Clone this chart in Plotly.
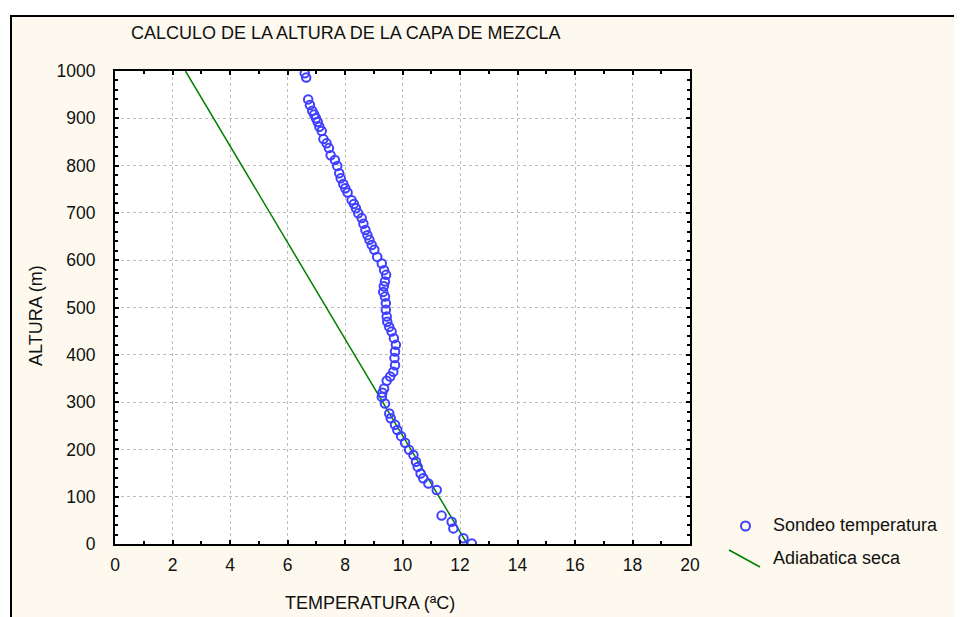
import plotly.graph_objects as go

# Sounding data (temperature °C, altitude m)
sondeo_temp = [6.60, 6.65, 6.72, 6.78, 6.86, 6.93, 6.99, 7.05, 7.11, 7.19, 7.25, 7.36, 7.44, 7.50,
               7.65, 7.73, 7.80, 7.85, 7.94, 8.01, 8.09, 8.23, 8.31, 8.38, 8.46, 8.58, 8.64, 8.71,
               8.78, 8.85, 8.93, 9.02, 9.12, 9.28, 9.36, 9.43, 9.39, 9.35, 9.33, 9.39, 9.42, 9.42,
               9.45, 9.47, 9.54, 9.62, 9.70, 9.77, 9.74, 9.72, 9.74, 9.68, 9.57, 9.45, 9.36, 9.30,
               9.28, 9.39, 9.54, 9.59, 9.74, 9.82, 9.95, 10.09, 10.23, 10.38, 10.47, 10.53, 10.63,
               10.72, 10.90, 11.19, 11.36, 11.71, 11.77, 12.12, 12.41]
sondeo_alt = [995, 986, 940, 928, 916, 908, 900, 892, 882, 873, 856, 847, 837, 822,
              812, 799, 784, 773, 761, 752, 743, 727, 719, 710, 699, 689, 677, 664,
              653, 643, 632, 622, 607, 593, 579, 569, 555, 545, 533, 523, 509, 495,
              481, 470, 459, 449, 435, 421, 407, 393, 378, 364, 354, 345, 329, 320,
              311, 297, 276, 266, 252, 241, 228, 214, 199, 188, 174, 163, 149,
              139, 128, 114, 60, 47, 33, 12, 1]

# Dry adiabatic line
adiab_temp = [12.25, 2.45]
adiab_alt = [0, 1000]

x_ticks = list(range(0, 21, 2))
y_ticks = list(range(0, 1001, 100))

title_text = "CALCULO DE LA ALTURA DE LA CAPA DE MEZCLA"
x_title = "TEMPERATURA (ªC)"
y_title = "ALTURA (m)"
legend_names = ["Sondeo temperatura", "Adiabatica seca"]

# The page body adds an 8px margin; the figure is sized/positioned to compensate.
OFF = 8
W, H = 962 - OFF, 617 - OFF
L, R, T, B = 115 - OFF, 690 - OFF, 71 - OFF, 544 - OFF
FONT = "Liberation Sans, Arial, sans-serif"
BLUE = "#3F3FFF"
GREEN = "#008000"
CREAM = "#FEF9EE"
TXT = "#111111"


def px(xr):
    """reference-picture x pixel -> paper coordinate"""
    return (xr - OFF - L) / (R - L)


def py(yr):
    """reference-picture y pixel -> paper coordinate"""
    return (B - (yr - OFF)) / (B - T)


fig = go.Figure()
fig.add_trace(go.Scatter(
    x=adiab_temp, y=adiab_alt, mode="lines", name=legend_names[1],
    line=dict(color=GREEN, width=1.5), showlegend=False))
fig.add_trace(go.Scatter(
    x=sondeo_temp, y=sondeo_alt, mode="markers", name=legend_names[0],
    marker=dict(symbol="circle-open", size=8.5, color=BLUE, line=dict(width=2, color=BLUE)),
    showlegend=False))

axis_common = dict(
    showline=True, linewidth=2, linecolor="black", mirror="allticks",
    ticks="inside", ticklen=4, tickwidth=1.5, tickcolor="black",
    showgrid=True, gridcolor="#BEBEBE", gridwidth=1, griddash="3px,3px",
    zeroline=False, tickfont=dict(family=FONT, size=17.5, color=TXT),
)

fig.update_xaxes(range=[0, 20], tickmode="array", tickvals=x_ticks,
                 minor=dict(dtick=1, tick0=0, ticks="inside", ticklen=3, tickcolor="black", showgrid=False),
                 ticklabelstandoff=4, **axis_common)
fig.update_yaxes(range=[0, 1000], tickmode="array", tickvals=y_ticks,
                 minor=dict(dtick=20, tick0=0, ticks="inside", ticklen=3, tickcolor="black", showgrid=False),
                 ticklabelstandoff=14, **axis_common)

shapes = [
    # white strips outside the outer frame
    dict(type="rect", xref="paper", yref="paper", x0=px(0), x1=px(11), y0=py(0), y1=py(700),
         fillcolor="white", line=dict(width=0), layer="below"),
    dict(type="rect", xref="paper", yref="paper", x0=px(0), x1=px(1000), y0=py(0), y1=py(16),
         fillcolor="white", line=dict(width=0), layer="below"),
    # outer frame border
    dict(type="line", xref="paper", yref="paper", x0=px(11), x1=px(11), y0=py(15), y1=py(700),
         line=dict(color="black", width=2)),
    dict(type="line", xref="paper", yref="paper", x0=px(10), x1=px(1000), y0=py(16), y1=py(16),
         line=dict(color="black", width=2)),
    # legend symbols
    dict(type="circle", xref="paper", yref="paper", x0=px(741), x1=px(750), y0=py(521.5), y1=py(530.5),
         line=dict(color=BLUE, width=2)),
    dict(type="line", xref="paper", yref="paper", x0=px(729), x1=px(760), y0=py(550), y1=py(567),
         line=dict(color=GREEN, width=1.5)),
]

annotations = [
    dict(text=legend_names[0], xref="paper", yref="paper", x=px(771), y=py(525),
         xanchor="left", yanchor="middle", showarrow=False,
         font=dict(family=FONT, size=18, color=TXT)),
    dict(text=legend_names[1], xref="paper", yref="paper", x=px(771), y=py(558),
         xanchor="left", yanchor="middle", showarrow=False,
         font=dict(family=FONT, size=18, color=TXT)),
    dict(text=x_title, xref="paper", yref="paper", x=px(370), y=py(603),
         xanchor="center", yanchor="middle", showarrow=False,
         font=dict(family=FONT, size=18, color=TXT)),
    dict(text=y_title, xref="paper", yref="paper", x=px(36), y=py(316),
         xanchor="center", yanchor="middle", showarrow=False, textangle=-90,
         font=dict(family=FONT, size=18, color=TXT)),
]

fig.update_layout(
    width=W, height=H,
    margin=dict(l=L, r=W - R, t=T, b=H - B, pad=0),
    paper_bgcolor=CREAM, plot_bgcolor="white",
    title=dict(text=title_text, xref="container", yref="container",
               x=(131 - OFF) / W, y=1 - (33 - OFF) / H, xanchor="left", yanchor="middle",
               font=dict(family=FONT, size=18, color=TXT)),
    shapes=shapes, annotations=annotations, showlegend=False,
)

fig.write_html("out.html")
